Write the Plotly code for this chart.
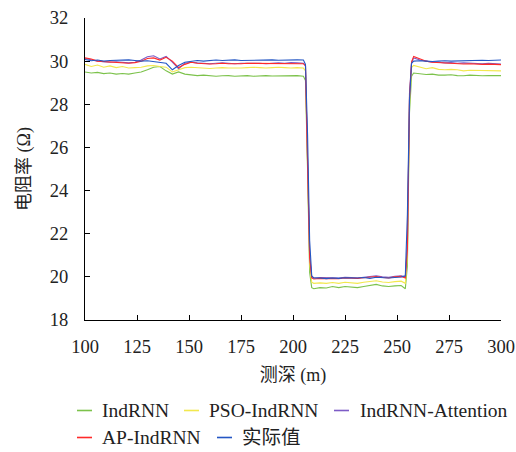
import plotly.graph_objects as go

depth = [100, 103, 106, 109, 112, 115, 118, 121, 124, 127, 130, 133, 136, 139, 142, 145, 148, 151,
         154, 157, 160, 163, 166, 169, 172, 175, 178, 181, 184, 187, 190, 193, 196, 199, 202, 205,
         206, 207, 208, 209, 210,
         213, 216, 219, 222, 225, 228, 231, 234, 237, 240, 243, 246, 249, 252,
         254, 255, 256, 257, 258,
         261, 264, 267, 270, 273, 276, 279, 282, 285, 288, 291, 294, 297, 300]

indrnn = [29.5, 29.45, 29.48, 29.42, 29.45, 29.4, 29.43, 29.4, 29.45, 29.5, 29.6, 29.72, 29.75, 29.55,
          29.4, 29.5, 29.4, 29.35, 29.33, 29.35, 29.32, 29.3, 29.32, 29.33, 29.3, 29.32, 29.33, 29.3,
          29.32, 29.33, 29.31, 29.32, 29.3, 29.32, 29.33, 29.3,
          29.1, 25.0, 20.2, 19.5, 19.45,
          19.5, 19.48, 19.55, 19.5, 19.55, 19.52, 19.5, 19.55, 19.6, 19.65, 19.58, 19.55, 19.58, 19.6,
          19.45, 20.5, 27.6, 29.3, 29.45,
          29.4, 29.38, 29.4, 29.35, 29.35, 29.37, 29.33, 29.32, 29.35, 29.33, 29.32, 29.33, 29.32, 29.33]

pso = [29.85, 29.75, 29.82, 29.72, 29.78, 29.7, 29.75, 29.68, 29.7, 29.72, 29.78, 29.8, 29.75, 29.72,
       29.5, 29.6, 29.7, 29.72, 29.7, 29.68, 29.66, 29.68, 29.7, 29.68, 29.67, 29.68, 29.7, 29.72,
       29.7, 29.68, 29.7, 29.72, 29.7, 29.68, 29.7, 29.68,
       29.55, 25.5, 20.6, 19.75, 19.7,
       19.72, 19.7, 19.74, 19.7, 19.75, 19.72, 19.7, 19.75, 19.78, 19.82, 19.76, 19.74, 19.78, 19.8,
       19.7, 21.0, 28.0, 29.7, 29.8,
       29.72, 29.65, 29.7, 29.62, 29.6, 29.62, 29.6, 29.55, 29.58, 29.57, 29.55, 29.56, 29.55, 29.55]

attention = [30.12, 30.05, 30.0, 29.97, 29.95, 29.97, 29.93, 29.92, 29.95, 30.05, 30.2, 30.25, 30.1, 30.22,
             29.95, 29.65, 29.9, 29.95, 29.92, 29.9, 29.88, 29.9, 29.92, 29.9, 29.88, 29.9, 29.9, 29.92,
             29.9, 29.88, 29.9, 29.92, 29.9, 29.93, 29.92, 29.9,
             29.8, 26.0, 21.0, 20.0, 19.95,
             19.97, 19.95, 19.96, 19.95, 19.98, 19.97, 19.95, 19.98, 20.02, 20.05, 20.0, 19.98, 20.03, 20.05,
             20.0, 21.5, 28.5, 29.95, 30.15,
             30.05, 30.0, 29.95, 29.95, 29.92, 29.93, 29.9, 29.92, 29.9, 29.9, 29.88, 29.9, 29.88, 29.87]

ap = [30.15, 30.1, 30.0, 29.98, 29.95, 29.93, 29.92, 29.9, 29.93, 30.0, 30.12, 30.15, 30.05, 30.18,
      30.0, 29.7, 29.85, 29.95, 29.9, 29.88, 29.87, 29.88, 29.9, 29.88, 29.87, 29.88, 29.9, 29.9,
      29.88, 29.87, 29.88, 29.9, 29.88, 29.9, 29.9, 29.88,
      29.78, 25.8, 20.9, 19.95, 19.9,
      19.93, 19.92, 19.94, 19.92, 19.95, 19.94, 19.93, 19.96, 19.98, 20.02, 19.97, 19.95, 20.0, 20.02,
      19.95, 21.3, 28.3, 29.95, 30.22,
      30.1, 30.0, 29.95, 29.93, 29.9, 29.9, 29.88, 29.87, 29.88, 29.85, 29.85, 29.86, 29.85, 29.84]

actual = [30.08, 30.02, 30.05, 30.0, 30.03, 30.05, 30.04, 30.06, 30.03, 30.0, 30.02, 29.98, 29.95, 29.9,
          29.6, 29.8, 29.95, 30.0, 30.03, 30.0, 30.02, 30.05, 30.03, 30.05, 30.06, 30.03, 30.04, 30.05,
          30.03, 30.05, 30.06, 30.04, 30.05, 30.07, 30.06, 30.05,
          29.85, 26.6, 21.7, 20.05, 19.95,
          19.95, 19.92, 19.95, 19.93, 19.96, 19.94, 19.95, 19.97, 19.93, 19.98, 19.96, 19.95, 19.97, 19.99,
          20.05, 22.9, 28.2, 29.9, 30.0,
          30.02, 30.0, 29.98, 30.0, 30.02, 30.0, 30.01, 30.03, 30.02, 30.03, 30.04, 30.03, 30.04, 30.05]

series_names = ["IndRNN", "PSO-IndRNN", "IndRNN-Attention", "AP-IndRNN", "实际值"]
series_values = [indrnn, pso, attention, ap, actual]
series_colors = ["#7cc24b", "#f2e84e", "#7d5cc6", "#ff2a2a", "#2456c4"]

x_ticks = [100, 125, 150, 175, 200, 225, 250, 275, 300]
y_ticks = [18, 20, 22, 24, 26, 28, 30, 32]

FONT = "Liberation Serif, Times New Roman, Noto Sans CJK SC, serif"
TXT = "#222222"

# figure geometry (pixels)
W, H = 516, 452
ML, MR, MT, MB = 85, 15, 18, 132
PW, PH = W - ML - MR, H - MT - MB

fig = go.Figure()
for name, vals, col in zip(series_names, series_values, series_colors):
    fig.add_trace(go.Scatter(x=depth, y=vals, mode="lines", name=name,
                             line=dict(color=col, width=1.1), showlegend=False))

# manual legend (flowing layout like the reference): (symbol start px, text start px, row center px)
legend_slots = [(77, 100, 410.5), (184, 207, 410.5), (334, 358, 410.5),
                (77, 100, 437.5), (217, 240, 437.5)]
shapes = []
annotations = []
for (sx, tx, cy), name, col in zip(legend_slots, series_names, series_colors):
    yp = (H - MB - cy) / PH
    shapes.append(dict(type="line", xref="paper", yref="paper",
                       x0=(sx - ML) / PW, x1=(sx + 15 - ML) / PW, y0=yp, y1=yp,
                       line=dict(color=col, width=1.6)))
    annotations.append(dict(text=name, xref="paper", yref="paper",
                            x=(tx - ML) / PW, y=yp, xanchor="left", yanchor="middle",
                            showarrow=False, font=dict(family=FONT, size=19.5, color=TXT)))

fig.update_layout(
    width=W, height=H,
    margin=dict(l=ML, r=MR, t=MT, b=MB, autoexpand=False),
    paper_bgcolor="white", plot_bgcolor="white",
    font=dict(family=FONT, size=18, color=TXT),
    showlegend=False,
    shapes=shapes, annotations=annotations,
    xaxis=dict(range=[100, 300], tickvals=x_ticks, automargin=False,
               showgrid=False, zeroline=False, showline=True, linecolor="black", linewidth=1,
               ticks="inside", ticklen=5, tickcolor="black", ticklabelstandoff=10,
               tickfont=dict(size=18.5, color=TXT),
               title=dict(text="测深 (m)", standoff=12, font=dict(size=18, color=TXT))),
    yaxis=dict(range=[18, 32], tickvals=y_ticks, automargin=False,
               showgrid=False, zeroline=False, showline=True, linecolor="black", linewidth=1,
               ticks="inside", ticklen=5, tickcolor="black", ticklabelstandoff=12,
               tickfont=dict(size=18.5, color=TXT),
               title=dict(text="电阻率 (Ω)", standoff=14, font=dict(size=18, color=TXT))),
)

fig.write_html("out.html", config={"displayModeBar": False},
               post_script="document.body.style.margin='0';document.body.style.overflow='hidden';")
